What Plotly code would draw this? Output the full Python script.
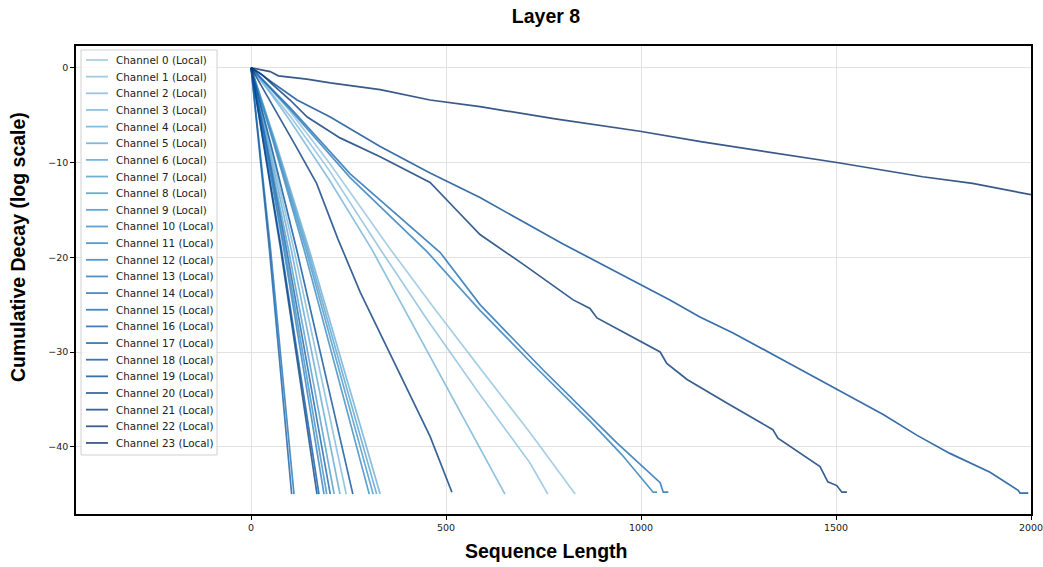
import plotly.graph_objects as go
from plotly.colors import sequential, make_colorscale, sample_colorscale

# ---------------- data ----------------
CHANNEL_NAMES = [f"Channel {i} (Local)" for i in range(24)]
X_TICKS = [0, 500, 1000, 1500, 2000]
Y_TICKS = [0, -10, -20, -30, -40]

CLUSTER_Y = [0, -8, -19.2, -30, -40, -45]

ch0_x = [0, 50, 100, 200, 358, 470, 587, 715, 831]
ch0_y = [0, -2.2, -4.6, -10, -19.2, -25.4, -31.7, -38.5, -45]
ch1_x = [0, 50, 100, 200, 332, 450, 587, 715, 761]
ch1_y = [0, -2.5, -5.1, -10.8, -19.2, -26.5, -34.5, -41.7, -45]
ch2_x = [0, 47, 110, 166, 217, 244]
ch2_y = CLUSTER_Y
ch3_x = [0, 50, 100, 200, 310, 400, 502, 587, 651]
ch3_y = [0, -2.7, -5.6, -11.8, -19.2, -26.0, -33.6, -40.1, -45]
ch4_x = [0, 64, 149, 225, 295, 331]
ch4_y = CLUSTER_Y
ch5_x = [0, 44, 103, 155, 203, 228]
ch5_y = CLUSTER_Y
ch6_x = [0, 62, 145, 219, 287, 322]
ch6_y = CLUSTER_Y
ch7_x = [0, 41, 96, 145, 190, 213]
ch7_y = CLUSTER_Y
ch8_x = [0, 60, 141, 213, 279, 313]
ch8_y = CLUSTER_Y
ch9_x = [0, 37, 87, 132, 173, 194]
ch9_y = CLUSTER_Y
ch10_x = [0, 58, 136, 206, 270, 303]
ch10_y = CLUSTER_Y
ch11_x = [0, 36, 84, 127, 166, 187]
ch11_y = CLUSTER_Y
ch12_x = [0, 100, 254, 451, 587, 715, 869, 950, 1031, 1041]
ch12_y = [0, -4.4, -11.6, -19.4, -25.6, -31.0, -37.3, -40.8, -44.8, -44.8]
ch13_x = [0, 21, 50, 75, 98, 110]
ch13_y = CLUSTER_Y
ch14_x = [0, 100, 254, 485, 587, 749, 938, 1049, 1057, 1070]
ch14_y = [0, -4.2, -11.2, -19.5, -25.0, -31.9, -39.6, -43.8, -44.8, -44.8]
ch15_x = [0, 39, 91, 138, 181, 203]
ch15_y = CLUSTER_Y
ch16_x = [0, 20, 47, 71, 93, 104]
ch16_y = CLUSTER_Y
ch17_x = [0, 33, 78, 118, 155, 174]
ch17_y = CLUSTER_Y
ch18_x = [0, 50, 117, 177, 232, 261]
ch18_y = CLUSTER_Y
ch19_x = [0, 20, 56, 118, 203, 331, 459, 587, 800, 1074, 1151, 1236, 1331,
          1441, 1536, 1621, 1708, 1792, 1895, 1967, 1972, 1993]
ch19_y = [0, -0.5, -1.6, -3.4, -5.2, -8.3, -11.1, -13.7, -18.6, -24.5, -26.3,
          -28.0, -30.1, -32.6, -34.7, -36.6, -38.8, -40.7, -42.7, -44.6, -44.9, -44.9]
ch20_x = [0, 32, 76, 115, 150, 169]
ch20_y = CLUSTER_Y
ch21_x = [0, 56, 118, 168, 222, 280, 339, 408, 459, 515]
ch21_y = [0, -4.0, -8.5, -12.2, -18.0, -23.7, -28.7, -34.4, -38.9, -44.8]
ch22_x = [0, 30, 56, 100, 144, 228, 331, 459, 510, 587, 700, 826, 869, 887,
          954, 1049, 1066, 1118, 1221, 1338, 1351, 1408, 1459, 1479, 1502, 1515, 1528]
ch22_y = [0, -0.8, -1.8, -3.4, -5.2, -7.4, -9.4, -12.1, -14.3, -17.6, -20.8,
          -24.5, -25.4, -26.4, -27.9, -30.0, -31.2, -32.9, -35.4, -38.2, -39.1,
          -40.7, -42.1, -43.7, -44.1, -44.8, -44.8]
ch23_x = [0, 49, 70, 143, 203, 331, 459, 587, 780, 997, 1153, 1300, 1502,
          1722, 1850, 2000]
ch23_y = [0, -0.4, -0.85, -1.2, -1.6, -2.3, -3.4, -4.1, -5.4, -6.7, -7.8,
          -8.7, -10.0, -11.5, -12.2, -13.4]

SERIES = [
    (ch0_x, ch0_y), (ch1_x, ch1_y), (ch2_x, ch2_y), (ch3_x, ch3_y),
    (ch4_x, ch4_y), (ch5_x, ch5_y), (ch6_x, ch6_y), (ch7_x, ch7_y),
    (ch8_x, ch8_y), (ch9_x, ch9_y), (ch10_x, ch10_y), (ch11_x, ch11_y),
    (ch12_x, ch12_y), (ch13_x, ch13_y), (ch14_x, ch14_y), (ch15_x, ch15_y),
    (ch16_x, ch16_y), (ch17_x, ch17_y), (ch18_x, ch18_y), (ch19_x, ch19_y),
    (ch20_x, ch20_y), (ch21_x, ch21_y), (ch22_x, ch22_y), (ch23_x, ch23_y),
]

# ---------------- style ----------------
W, H = 1043, 567
ML, MR, MT, MB = 76, 12, 46, 53
PW, PH = W - ML - MR, H - MT - MB
ALPHA = 0.8

cs = make_colorscale(sequential.Blues)
n = len(SERIES)
colors = sample_colorscale(cs, [0.4 + 0.6 * i / (n - 1) for i in range(n)])


def rgba(c, a):
    r, g, b = [float(v) for v in c[c.index("(") + 1:c.index(")")].split(",")]
    return f"rgba({int(round(r))},{int(round(g))},{int(round(b))},{a})"


def px_x(p):
    return (p - ML) / PW


def px_y(p):
    return 1 - (p - MT) / PH


fig = go.Figure()
for i, (xs, ys) in enumerate(SERIES):
    fig.add_trace(go.Scatter(
        x=xs, y=ys, mode="lines", name=CHANNEL_NAMES[i],
        line=dict(color=colors[i], width=1.7), opacity=ALPHA,
        showlegend=False, hoverinfo="name"))

# custom legend (matplotlib-like compact spacing)
shapes = [dict(type="rect", xref="paper", yref="paper",
               x0=px_x(81), x1=px_x(217), y0=px_y(455), y1=px_y(50),
               line=dict(color="#d0d0d0", width=1),
               fillcolor="rgba(255,255,255,0.85)", layer="above")]
annotations = []
step = 16.65
for i, name in enumerate(CHANNEL_NAMES):
    yy = px_y(60 + i * step)
    shapes.append(dict(type="line", xref="paper", yref="paper",
                       x0=px_x(86), x1=px_x(108), y0=yy, y1=yy,
                       line=dict(color=rgba(colors[i], ALPHA), width=1.8),
                       layer="above"))
    annotations.append(dict(xref="paper", yref="paper", x=px_x(114), y=yy,
                            text=name, showarrow=False, xanchor="left",
                            yanchor="middle",
                            font=dict(family="DejaVu Sans", size=10.4,
                                      color="#222222")))

# axis titles placed as in the reference
annotations.append(dict(xref="paper", yref="paper", x=px_x(546), y=px_y(551),
                        text="<b>Sequence Length</b>", showarrow=False,
                        xanchor="center", yanchor="middle",
                        font=dict(family="Liberation Sans", size=19.5,
                                  color="black")))
annotations.append(dict(xref="paper", yref="paper", x=px_x(18), y=px_y(247),
                        text="<b>Cumulative Decay (log scale)</b>",
                        showarrow=False, textangle=-90,
                        xanchor="center", yanchor="middle",
                        font=dict(family="Liberation Sans", size=19.5,
                                  color="black")))

fig.update_layout(
    width=W, height=H,
    margin=dict(l=ML, r=MR, t=MT, b=MB, autoexpand=False),
    paper_bgcolor="white", plot_bgcolor="white",
    title=dict(text="<b>Layer 8</b>", x=px_x(546), xref="paper",
               y=1 - 16 / H, yref="container", xanchor="center",
               yanchor="middle",
               font=dict(family="Liberation Sans", size=19.5, color="black")),
    shapes=shapes, annotations=annotations,
    showlegend=False,
)
axis_common = dict(
    showline=True, linecolor="black", linewidth=1.5, mirror=True,
    showgrid=True, gridcolor="#e2e2e2", gridwidth=1, zeroline=False,
    ticks="outside", ticklen=4, tickcolor="black", tickwidth=1,
    tickfont=dict(family="DejaVu Sans", size=9.5, color="#222222"),
    automargin=False, ticklabeloverflow="allow",
)
fig.update_xaxes(
    range=[-449, 2000], tickvals=X_TICKS, ticktext=[str(v) for v in X_TICKS],
    **axis_common)
fig.update_yaxes(
    range=[-47.1, 2.3], tickvals=Y_TICKS,
    ticktext=[str(v).replace("-", "\u2212") for v in Y_TICKS],
    **axis_common)

fig.write_html("out.html")
